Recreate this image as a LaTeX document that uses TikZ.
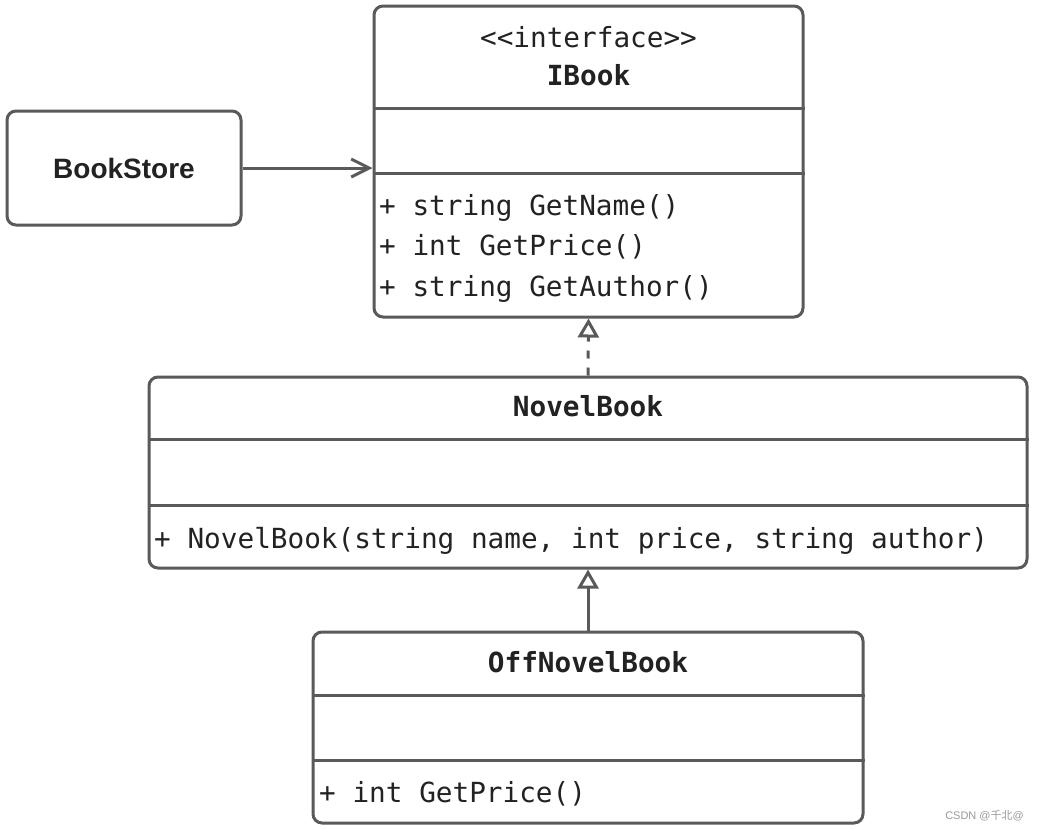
\documentclass[tikz,border=0pt]{standalone}
\usepackage{fontspec}
\setmainfont{Liberation Sans}
\setmonofont{DejaVu Sans Mono}
\newfontfamily\cjkfont{Noto Sans CJK SC}
\usetikzlibrary{arrows.meta}
\definecolor{linec}{HTML}{5A5A5A}
\definecolor{txtc}{HTML}{222222}
\definecolor{wmc}{HTML}{9A9A9A}
\tikzset{
  umlbox/.style={draw=linec, line width=3pt, rounded corners=9pt, fill=white, inner sep=0pt},
  divider/.style={draw=linec, line width=3pt},
  monotext/.style={inner sep=0pt, anchor=base, text=txtc, font=\ttfamily\fontsize{27.7}{33}\selectfont},
  monobold/.style={monotext, font=\ttfamily\bfseries\fontsize{27.7}{33}\selectfont},
  membertext/.style={monotext, anchor=base west},
  conn/.style={draw=linec, line width=3pt},
  hollowtri/.style={-{Triangle[open, fill=white, length=19pt, width=21pt, line width=3pt]}},
}
\begin{document}
\begin{tikzpicture}[x=1pt, y=-1pt]
\useasboundingbox[fill=white] (0,0) rectangle (1039,830);

% BookStore
\node[umlbox, minimum width=234pt, minimum height=114pt] (store) at (124,168) {};
\node[inner sep=0pt, anchor=base, text=txtc, font=\bfseries\fontsize{28}{33}\selectfont] (storet) at (124,178) {BookStore};

% IBook
\node[umlbox, minimum width=429pt, minimum height=311pt] (ibook) at (588.5,161.5) {};
\draw[divider] (ibook.west |- 0,108) -- (ibook.east |- 0,108);
\draw[divider] (ibook.west |- 0,173) -- (ibook.east |- 0,173);
\node[monotext] (ibst) at (588.5,47) {<{}<interface>{}>};
\node[monobold] (ibn) at (588.5,85) {IBook};
\node[membertext] (ib1) at (379,215) {+ string GetName()};
\node[membertext] (ib2) at (379,255) {+ int GetPrice()};
\node[membertext] (ib3) at (379,296) {+ string GetAuthor()};

% NovelBook
\node[umlbox, minimum width=878pt, minimum height=191pt] (novel) at (588,472.5) {};
\draw[divider] (novel.west |- 0,439) -- (novel.east |- 0,439);
\draw[divider] (novel.west |- 0,505) -- (novel.east |- 0,505);
\node[monobold] (noveln) at (588,416) {NovelBook};
\node[membertext] (novel1) at (154,548) {+ NovelBook(string name, int price, string author)};

% OffNovelBook
\node[umlbox, minimum width=550pt, minimum height=191pt] (off) at (588,727.5) {};
\draw[divider] (off.west |- 0,695) -- (off.east |- 0,695);
\draw[divider] (off.west |- 0,760) -- (off.east |- 0,760);
\node[monobold] (offn) at (588,672) {OffNovelBook};
\node[membertext] (off1) at (319,802) {+ int GetPrice()};

% connectors
\draw[conn, -{Straight Barb[length=18pt, width=18pt, line width=3pt]}] (store.east) -- (store.east -| ibook.west);
\draw[conn, dash pattern=on 8pt off 9pt, hollowtri] (novel.north) -- (ibook.south);
\draw[conn, hollowtri] (off.north) -- (novel.south);

% watermark
\node[inner sep=0pt, anchor=base east, text=wmc, font=\fontsize{11}{13}\selectfont] (wm) at (1024,819) {CSDN @{\cjkfont 千北}@};
\end{tikzpicture}
\end{document}
